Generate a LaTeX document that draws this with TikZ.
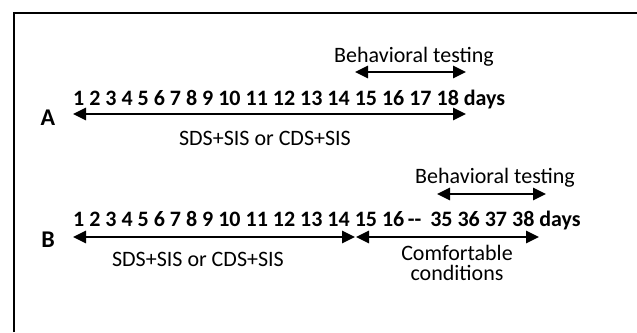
\documentclass[tikz,border=0pt]{standalone}
\usepackage{fontspec}
\setmainfont{Carlito}
\usetikzlibrary{arrows.meta}
\tikzset{
  lbl/.style={inner sep=0pt, font=\fontsize{22}{20}\selectfont},
  days/.style={inner sep=0pt, anchor=base west, font=\bfseries\fontsize{22}{20}\selectfont},
  panel/.style={inner sep=0pt, font=\bfseries\fontsize{24}{20}\selectfont},
  span/.style={line width=2.6pt, {Triangle[length=13pt,width=12pt]}-{Triangle[length=13pt,width=12pt]}},
}
\begin{document}
\begin{tikzpicture}[x=1pt,y=-1pt]
\useasboundingbox (0,0) rectangle (637,332);
% outer frame (top and left edges)
\draw[line width=2pt] (13.5,332) -- (13.5,12.5) -- (637,12.5);

% ---- protocol A ----
\node[lbl] (btA) at (414,57) {Behavioral testing};
\coordinate (btAl) at (355,72);
\coordinate (btAr) at (466,72);
\draw[span] (btAl) -- (btAr);
\node[days] (rowA) at (73,105) {1 2 3 4 5 6 7 8 9 10 11 12 13 14 15 16 17 18 days};
\node[panel] (A) at (48,118) {A};
\coordinate (arAl) at (73,114);
\coordinate (arAr) at (466,114);
\draw[span] (arAl) -- (arAr);
\node[lbl] (stressA) at (265,138) {SDS+SIS or CDS+SIS};

% ---- protocol B ----
\node[lbl] (btB) at (495,178) {Behavioral testing};
\coordinate (btBl) at (437,194);
\coordinate (btBr) at (546,194);
\draw[span] (btBl) -- (btBr);
\node[days] (rowB) at (73,226) {1 2 3 4 5 6 7 8 9 10 11 12 13 14 15 16\,-{}-\hspace{0.4em}35 36 37 38 days};
\node[panel] (B) at (48,240) {B};
\coordinate (arB1) at (73,237);
\coordinate (arB2) at (355,237);
\coordinate (arB3) at (356,237);
\coordinate (arB4) at (539,237);
\draw[span] (arB1) -- (arB2);
\draw[span] (arB3) -- (arB4);
\node[lbl] (stressB) at (198,259) {SDS+SIS or CDS+SIS};
\node[lbl, align=center] (comf) at (457,263) {Comfortable\\conditions};
\end{tikzpicture}
\end{document}
